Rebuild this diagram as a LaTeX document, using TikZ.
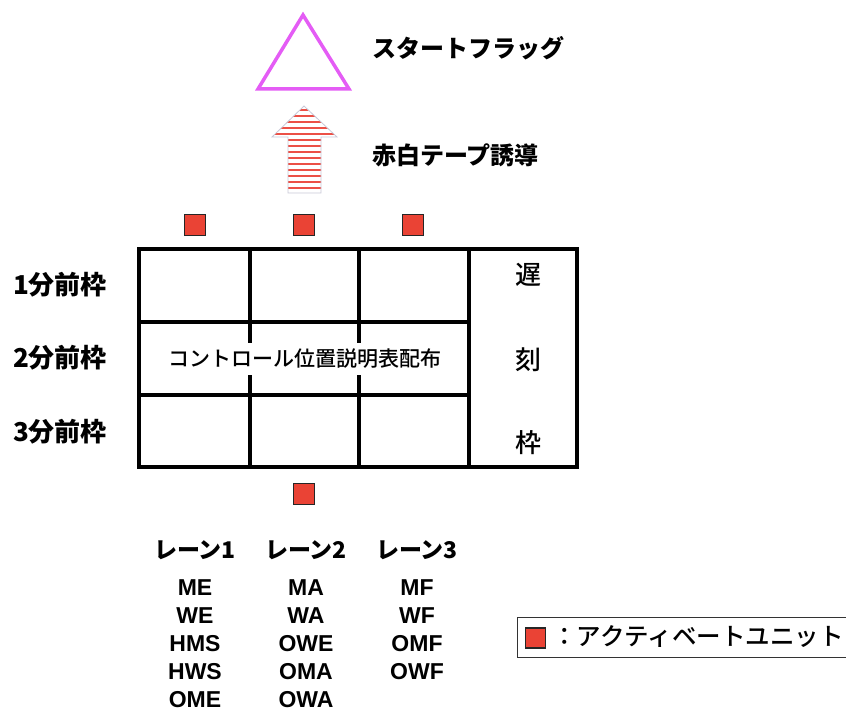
\documentclass[tikz,border=0pt]{standalone}
\usepackage{fontspec}
\setmainfont{Noto Sans CJK JP}
\newfontfamily\jpmed{Noto Sans CJK JP Medium}
\newfontfamily\arialfont{Liberation Sans}
\definecolor{unitred}{RGB}{234,67,53}
\definecolor{flagviolet}{RGB}{228,92,245}
\definecolor{stripered}{RGB}{236,80,70}
\definecolor{arrowedge}{RGB}{200,200,215}
\tikzset{
  unit/.style={draw=black!85, line width=1.2pt, fill=unitred, minimum size=21pt, inner sep=0pt},
  gridline/.style={line width=4pt, line cap=rect},
  rowlabel/.style={font=\bfseries\fontsize{26}{30}\selectfont},
  lanelabel/.style={font=\bfseries\fontsize{23}{27}\selectfont},
  codes/.style={font=\arialfont\bfseries\fontsize{23}{28}\selectfont, align=center, inner sep=0pt, anchor=north},
  vlabel/.style={font=\jpmed\fontsize{26}{30}\selectfont},
  headtext/.style={font=\bfseries\fontsize{24}{28}\selectfont, anchor=west, inner sep=0pt}
}
\begin{document}
\begin{tikzpicture}[x=1pt,y=-1pt]
\useasboundingbox (0,0) rectangle (846,708);
\clip (0,0) rectangle (846,708);
% start flag
\draw[flagviolet, line width=3.5pt, line join=miter] (303,15) -- (349,89) -- (258,89) -- cycle;
\node[headtext] (flag) at (372,48) {スタートフラッグ};
% striped arrow
\begin{scope}
  \clip (304,106) -- (337,137) -- (321,137) -- (321,193) -- (288,193) -- (288,137) -- (272,137) -- cycle;
  \fill[white] (260,100) rectangle (350,200);
  \foreach \yy in {110,116,...,190} \draw[stripered, line width=1.6pt] (265,\yy) -- (345,\yy);
\end{scope}
\draw[arrowedge, line width=0.8pt, line join=miter] (304,106) -- (337,137) -- (321,137) -- (321,193) -- (288,193) -- (288,137) -- (272,137) -- cycle;
\node[headtext] (tape) at (372,155) {赤白テープ誘導};
% activate units
\node[unit] (u1) at (195,225) {};
\node[unit] (u2) at (304,225) {};
\node[unit] (u3) at (413,225) {};
\node[unit] (u4) at (304,494) {};
% table
\draw[gridline] (139,249) rectangle (577,467);
\draw[gridline] (250,249) -- (250,467);
\draw[gridline] (359,249) -- (359,467);
\draw[gridline] (469,249) -- (469,467);
\draw[gridline] (139,322) -- (469,322);
\draw[gridline] (139,395) -- (469,395);
\node[fill=white, inner xsep=2pt, inner ysep=6pt, font=\jpmed\fontsize{21}{25}\selectfont] (ctrl) at (305,359) {コントロール位置説明表配布};
\node[vlabel] (late1) at (528,275) {遅};
\node[vlabel] (late2) at (528,360) {刻};
\node[vlabel] (late3) at (528,443) {枠};
% row labels
\node[rowlabel] (r1) at (60,285) {1分前枠};
\node[rowlabel] (r2) at (60,358) {2分前枠};
\node[rowlabel] (r3) at (60,432) {3分前枠};
% lanes
\node[lanelabel] (l1) at (195,550) {レーン1};
\node[lanelabel] (l2) at (306,550) {レーン2};
\node[lanelabel] (l3) at (417,550) {レーン3};
\node[codes] (c1) at (195,579) {ME\\WE\\HMS\\HWS\\OME};
\node[codes] (c2) at (306,579) {MA\\WA\\OWE\\OMA\\OWA};
\node[codes] (c3) at (417,579) {MF\\WF\\OMF\\OWF};
% legend
\draw[line width=1pt, black!80] (517,617) rectangle (870,657);
\node[unit, minimum size=20pt] (lu) at (535.5,638) {};
\node[anchor=west, inner sep=0pt, font=\jpmed\fontsize{24.5}{28}\selectfont] (lt) at (552,637) {：アクティベートユニット};
\end{tikzpicture}
\end{document}
